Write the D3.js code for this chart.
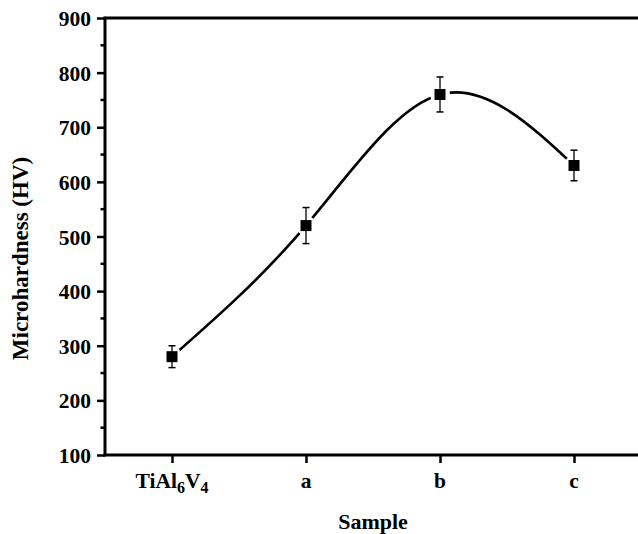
<!DOCTYPE html>
<html>
<head>
<meta charset="utf-8">
<script src="https://cdn.jsdelivr.net/npm/d3@7"></script>
<style>
    body { margin: 0; background: #fff; }
    #chart-container { width: 638px; height: 534px; }
    .axis-text { font-family: 'Liberation Serif', 'Times New Roman', serif; font-weight: bold; fill: #000; }
</style>
</head>
<body>
<div id="chart-container"></div>
<script>
//data
var sampleNames = ['TiAl6V4', 'a', 'b', 'c'],
    sampleIndex = [1, 2, 3, 4],
    hardnessValues = [280, 520, 760, 630],
    hardnessErrors = [20, 33, 32, 28],
    yTickValues = [100, 200, 300, 400, 500, 600, 700, 800, 900],
    yMinorTickValues = [150, 250, 350, 450, 550, 650, 750, 850];

//containers
var chartContainer = d3.select('#chart-container'),
    chartSvg,
    chartG;

//sizes
var outerW = 638,
    outerH = 534,
    margin = { left: 105, top: 18, right: -3, bottom: 79 },
    w = outerW - margin.left - margin.right,
    h = outerH - margin.top - margin.bottom;

//scales
var xScale = d3.scaleLinear().domain([0.5, 4.5]).range([0, w]),
    yScale = d3.scaleLinear().domain([100, 900]).range([h, 0]);

chartSvg = chartContainer.append('svg')
    .attr('width', outerW)
    .attr('height', outerH);

chartG = chartSvg.append('g')
    .attr('transform', 'translate(' + margin.left + ', ' + margin.top + ')');

var points = sampleIndex.map(function(d, i) {
    return { x: d, y: hardnessValues[i], err: hardnessErrors[i], name: sampleNames[i] };
});

//spline through the points
var line = d3.line()
    .x(function(d) { return xScale(d.x); })
    .y(function(d) { return yScale(d.y); })
    .curve(d3.curveNatural);

chartG.append('path')
    .datum(points)
    .attr('d', line)
    .attr('fill', 'none')
    .attr('stroke', '#000')
    .attr('stroke-width', 2.6);

//gap around the symbols
chartG.selectAll('.halo')
    .data(points)
    .enter()
    .append('circle')
    .attr('class', 'halo')
    .attr('cx', function(d) { return xScale(d.x); })
    .attr('cy', function(d) { return yScale(d.y); })
    .attr('r', 10)
    .attr('fill', '#fff');

//error bars
var errG = chartG.selectAll('.err')
    .data(points)
    .enter()
    .append('g')
    .attr('class', 'err');

errG.append('line')
    .attr('x1', function(d) { return xScale(d.x); })
    .attr('x2', function(d) { return xScale(d.x); })
    .attr('y1', function(d) { return yScale(d.y + d.err); })
    .attr('y2', function(d) { return yScale(d.y - d.err); })
    .attr('stroke', '#000')
    .attr('stroke-width', 1.3);

errG.append('line')
    .attr('x1', function(d) { return xScale(d.x) - 3.5; })
    .attr('x2', function(d) { return xScale(d.x) + 3.5; })
    .attr('y1', function(d) { return yScale(d.y + d.err); })
    .attr('y2', function(d) { return yScale(d.y + d.err); })
    .attr('stroke', '#000')
    .attr('stroke-width', 1.5);

errG.append('line')
    .attr('x1', function(d) { return xScale(d.x) - 3.5; })
    .attr('x2', function(d) { return xScale(d.x) + 3.5; })
    .attr('y1', function(d) { return yScale(d.y - d.err); })
    .attr('y2', function(d) { return yScale(d.y - d.err); })
    .attr('stroke', '#000')
    .attr('stroke-width', 1.5);

//symbols
chartG.selectAll('.dot')
    .data(points)
    .enter()
    .append('rect')
    .attr('class', 'dot')
    .attr('x', function(d) { return xScale(d.x) - 5.5; })
    .attr('y', function(d) { return yScale(d.y) - 5.5; })
    .attr('width', 11)
    .attr('height', 11)
    .attr('fill', '#000');

//axes
var yAxis = d3.axisLeft(yScale)
    .tickValues(yTickValues)
    .tickSize(8)
    .tickPadding(6)
    .tickSizeOuter(0);

var yAxisG = chartG.append('g')
    .attr('class', 'y-axis')
    .call(yAxis);

yAxisG.select('.domain').remove();
yAxisG.selectAll('line').attr('stroke', '#000').attr('stroke-width', 2.5);
yAxisG.selectAll('text')
    .attr('class', 'axis-text')
    .style('font-size', '21.5px')
    .attr('font-family', null)
    .attr('dy', '0.35em');

chartG.append('g')
    .selectAll('.minor')
    .data(yMinorTickValues)
    .enter()
    .append('line')
    .attr('x1', -4.5)
    .attr('x2', 0)
    .attr('y1', function(d) { return yScale(d); })
    .attr('y2', function(d) { return yScale(d); })
    .attr('stroke', '#000')
    .attr('stroke-width', 2.5);

var xAxis = d3.axisBottom(xScale)
    .tickValues(sampleIndex)
    .tickSize(8)
    .tickFormat('')
    .tickSizeOuter(0);

var xAxisG = chartG.append('g')
    .attr('class', 'x-axis')
    .attr('transform', 'translate(0,' + h + ')')
    .call(xAxis);

xAxisG.select('.domain').remove();
xAxisG.selectAll('line').attr('stroke', '#000').attr('stroke-width', 2.5);

//category labels, with subscripts for TiAl6V4
var xLabels = chartG.append('g')
    .selectAll('.x-label')
    .data(points)
    .enter()
    .append('text')
    .attr('class', 'axis-text x-label')
    .attr('x', function(d) { return xScale(d.x); })
    .attr('y', h + 33)
    .attr('text-anchor', 'middle')
    .style('font-size', '21.5px');

xLabels.each(function(d) {
    var t = d3.select(this);
    if (d.name == 'TiAl6V4') {
        t.append('tspan').text('TiAl');
        t.append('tspan').text('6').attr('dy', 5).style('font-size', '16px');
        t.append('tspan').text('V').attr('dy', -5);
        t.append('tspan').text('4').attr('dy', 5).style('font-size', '16px');
    } else {
        t.text(d.name);
    }
});

//frame lines
chartG.append('line')
    .attr('x1', 0).attr('x2', 0)
    .attr('y1', -1.25).attr('y2', h + 1.25)
    .attr('stroke', '#000').attr('stroke-width', 3);

chartG.append('line')
    .attr('x1', -1.5).attr('x2', w)
    .attr('y1', h).attr('y2', h)
    .attr('stroke', '#000').attr('stroke-width', 2.8);

chartG.append('line')
    .attr('x1', -1.5).attr('x2', w)
    .attr('y1', 0).attr('y2', 0)
    .attr('stroke', '#000').attr('stroke-width', 2.8);

chartG.append('line')
    .attr('x1', w).attr('x2', w)
    .attr('y1', 0).attr('y2', h)
    .attr('stroke', '#000').attr('stroke-width', 2.8);

//axis titles
chartSvg.append('text')
    .attr('class', 'axis-text')
    .attr('transform', 'translate(28,' + (margin.top + h / 2 + 22) + ') rotate(-90)')
    .attr('text-anchor', 'middle')
    .style('font-size', '23px')
    .text('Microhardness (HV)');

chartSvg.append('text')
    .attr('class', 'axis-text')
    .attr('x', margin.left + xScale(2.5))
    .attr('y', 529)
    .attr('text-anchor', 'middle')
    .style('font-size', '22px')
    .text('Sample');
</script>
</body>
</html>
